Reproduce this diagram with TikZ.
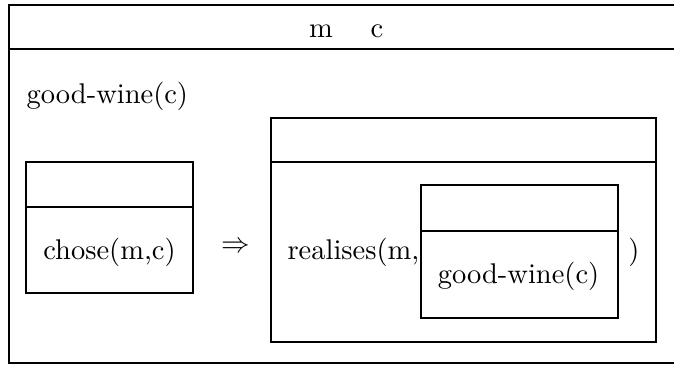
\documentclass[tikz,border=0pt]{standalone}
\begin{document}
\begin{tikzpicture}[x=1pt,y=-1pt,
  box/.style={draw,line width=1.3pt},
  txt/.style={inner sep=0pt,scale=2.85,transform shape}]
\useasboundingbox (0,0) rectangle (674,367);
\begin{scope}
\clip (0,0) rectangle (674,367);
% outer DRS
\draw[box] (9,5) rectangle (690,363);
\draw[box] (9,49) -- (690,49);
\end{scope}
\node[txt,anchor=base] (m) at (321,37) {m};
\node[txt,anchor=base] (c) at (377,37) {c};
\node[txt,anchor=base west] (gw) at (26,103) {good-wine(c)};
% left box
\draw[box] (26,162) rectangle (193,293);
\draw[box] (26,207) -- (193,207);
\node[txt,anchor=base] (chose) at (109.5,259) {chose(m,c)};
\node[txt] (imp) at (236,247) {$\Rightarrow$};
% right box
\draw[box] (271,118) rectangle (656,342);
\draw[box] (271,162) -- (656,162);
\node[txt,anchor=base west] (real) at (287,259) {realises(m,};
% inner box
\draw[box] (421,185) rectangle (618,318);
\draw[box] (421,231) -- (618,231);
\node[txt,anchor=base] (gw2) at (518.5,283) {good-wine(c)};
\node[txt,anchor=base] (rp) at (634,259) {)};
\end{tikzpicture}
\end{document}
